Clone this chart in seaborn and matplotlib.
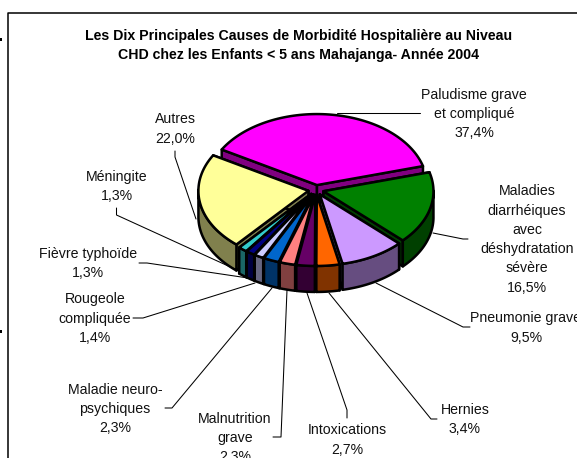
import numpy as np
import pandas as pd
import matplotlib
matplotlib.use('Agg')
import matplotlib.pyplot as plt
from matplotlib.patches import Polygon, Rectangle
import seaborn as sns

# data
causes = ['Paludisme grave\net compliqué',
          'Maladies\ndiarrhéiques\navec\ndéshydratation\nsévère',
          'Pneumonie grave', 'Hernies', 'Intoxications',
          'Malnutrition\ngrave', 'Maladie neuro-\npsychiques',
          'Rougeole\ncompliquée', 'Fièvre typhoïde', 'Méningite', 'Autres']
shares = [37.4, 16.5, 9.5, 3.4, 2.7, 2.3, 2.3, 1.4, 1.3, 1.3, 22.0]
colours = ['#FF00FF', '#008000', '#CC99FF', '#FF6600', '#660066', '#FF8080',
           '#0066CC', '#CCCCFF', '#000080', '#33CCCC', '#FFFF99']
title = ('Les Dix Principales Causes de Morbidité Hospitalière au Niveau\n'
         'CHD chez les Enfants < 5 ans Mahajanga- Année 2004')

# layout, in pixels of the 577x458 picture
label_pos = [(474, 114), (527, 239.5), (526, 328), (465, 419.5), (347, 440),
             (235, 438), (115, 409), (95, 318.5), (88, 263.5), (117, 186.5), (175, 129)]
leaders = [[(420, 113), (337, 113)],
           [(468, 239), (463, 239), (433, 233)],
           [(470, 327), (463, 327), (376, 283)],
           [(437, 419), (431, 419), (329, 293)],
           [(347, 418), (347, 410), (307, 293)],
           [(273, 437), (281, 437), (287, 290)],
           [(165, 408), (172, 408), (272, 288)],
           [(133, 318), (143, 318), (255, 283)],
           [(139, 263), (147, 263), (248, 278)],
           [(116.5, 208), (116.5, 215), (237, 270)],
           [(175, 151), (175, 157), (196, 219)]]
cx, cy = 316, 190
rx, ry = 110, 71
depth = 26
explode = 0.07
start_angle = 150

sns.set_theme(style='white')
plt.rcParams['font.family'] = ['Liberation Sans', 'DejaVu Sans']
palette = sns.color_palette(colours)

df = pd.DataFrame({'cause': causes, 'share': shares})
df['share_txt'] = df['share'].map(lambda v: f'{v:.1f}%'.replace('.', ','))
df['end'] = start_angle - df['share'].cumsum() / df['share'].sum() * 360
df['begin'] = df['end'] + df['share'] / df['share'].sum() * 360
df['mid'] = (df['begin'] + df['end']) / 2
df['colour'] = list(palette)

fig, ax = plt.subplots(figsize=(5.77, 4.58), dpi=100)
ax.set_position([0, 0, 1, 1])
ax.set_xlim(0, 577)
ax.set_ylim(458, 0)
ax.axis('off')

# chart frame + the bits of the neighbouring box at the left edge
ax.plot([8, 8, 577], [458, 13, 13], color='black', lw=1.1)
ax.add_patch(Rectangle((0, 38), 2, 3, color='black', lw=0))
ax.add_patch(Rectangle((0, 330), 1.5, 3, color='black', lw=0))

ax.text(298.5, 45.5, title, ha='center', va='center', fontsize=10.15,
        fontweight='bold', linespacing=1.45, color='black')

for xy, row in zip(leaders, df.itertuples()):
    pts = np.array(xy)
    ax.plot(pts[:, 0], pts[:, 1], color='black', lw=0.75)

edge = dict(edgecolor='black', lw=1.8, joinstyle='round')

# back slices first so the front ones cover them
for row in df.sort_values('mid', key=lambda s: -np.sin(np.radians(s))).itertuples():
    side = tuple(c * 0.5 for c in row.colour)
    m = np.radians(row.mid)
    tx = cx + explode * rx * np.cos(m)
    ty = cy - explode * ry * np.sin(m)
    t = np.radians(np.linspace(row.begin, row.end, 80))
    ex = tx + rx * np.cos(t)
    ey = ty - ry * np.sin(t)

    for i in (0, -1):
        wall = [(tx, ty), (ex[i], ey[i]), (ex[i], ey[i] + depth), (tx, ty + depth)]
        ax.add_patch(Polygon(wall, facecolor=side, **edge))

    low = np.sin(t) < 0.02
    if low.any():
        ox, oy = ex[low], ey[low]
        wall = np.column_stack([np.r_[ox, ox[::-1]], np.r_[oy, oy[::-1] + depth]])
        ax.add_patch(Polygon(wall, facecolor=side, **edge))

    top = np.column_stack([np.r_[tx, ex], np.r_[ty, ey]])
    ax.add_patch(Polygon(top, facecolor=row.colour, **edge))

# Pneumonie grave and the lowest label run off the picture, as in the original
for (x, y), row in zip(label_pos, df.itertuples()):
    ax.text(x, y, f'{row.cause}\n{row.share_txt}', ha='center', va='center',
            fontsize=10.2, linespacing=1.48, color='#111111', clip_on=True)

fig.savefig('out.png', dpi=100)
